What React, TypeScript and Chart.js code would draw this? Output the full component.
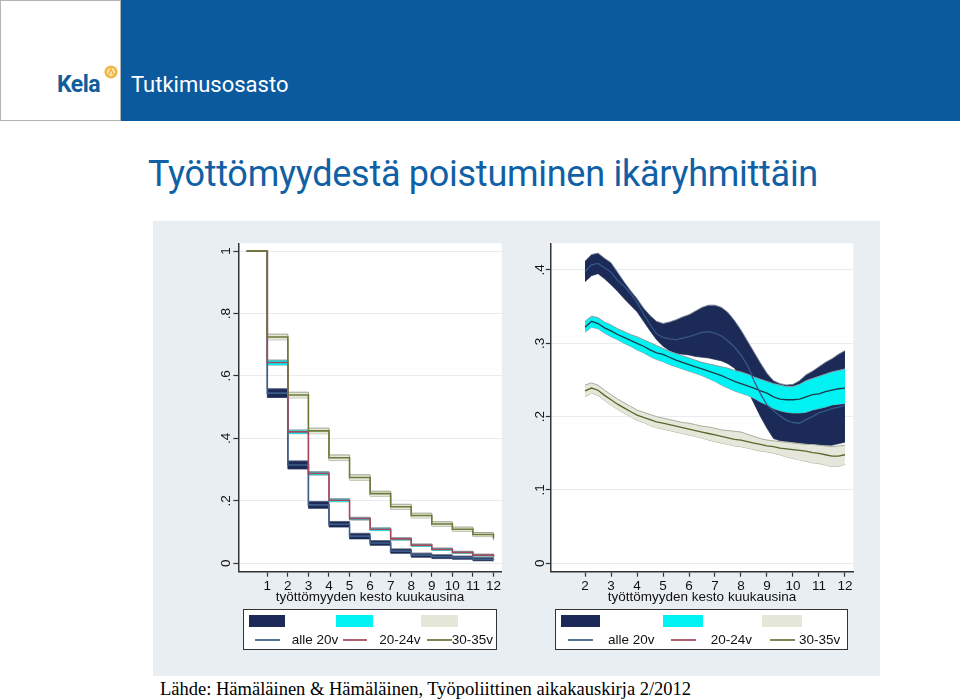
import React, { useEffect, useRef } from "react";
import { Chart, registerables } from "chart.js";
Chart.register(...registerables);

// ---------- Left chart: survival (step) ----------
const leftMonths = [0, 1, 2, 3, 4, 5, 6, 7, 8, 9, 10, 11, 12];
const leftXTicks = [1, 2, 3, 4, 5, 6, 7, 8, 9, 10, 11, 12];
const leftYTicks = [0, 0.2, 0.4, 0.6, 0.8, 1];
const leftAlle20 = [1, 0.545, 0.315, 0.187, 0.125, 0.087, 0.065, 0.039, 0.026, 0.021, 0.018, 0.013, 0.011];
const leftAlle20Half = [0, 0.014, 0.013, 0.011, 0.009, 0.009, 0.0075, 0.007, 0.0065, 0.006, 0.005, 0.005, 0.005];
const left2024 = [1, 0.643, 0.421, 0.288, 0.202, 0.143, 0.109, 0.078, 0.058, 0.045, 0.035, 0.026, 0.021];
const left2024Half = [0, 0.008, 0.006, 0.0055, 0.005, 0.0045, 0.0045, 0.004, 0.004, 0.004, 0.0035, 0.0035, 0.0035];
const left3035 = [1, 0.725, 0.539, 0.424, 0.338, 0.275, 0.223, 0.181, 0.153, 0.126, 0.109, 0.092, 0.08];
const left3035Half = [0, 0.009, 0.009, 0.009, 0.009, 0.0085, 0.008, 0.008, 0.0075, 0.007, 0.007, 0.0065, 0.0065];

// ---------- Right chart: hazard (smoothed) ----------
const rMonths = [2, 2.25, 2.5, 2.75, 3, 3.25, 3.5, 3.75, 4, 4.25, 4.5, 4.75, 5, 5.25, 5.5, 5.75, 6, 6.25, 6.5, 6.75, 7, 7.25, 7.5, 7.75, 8, 8.25, 8.5, 8.75, 9, 9.25, 9.5, 9.75, 10, 10.25, 10.5, 10.75, 11, 11.25, 11.5, 11.75, 12];
const rightXTicks = [2, 3, 4, 5, 6, 7, 8, 9, 10, 11, 12];
const rightYTicks = [0, 0.1, 0.2, 0.3, 0.4];
const rAlle20 = [0.398, 0.407, 0.409, 0.403, 0.397, 0.386, 0.378, 0.368, 0.356, 0.34, 0.326, 0.313, 0.308, 0.306, 0.305, 0.307, 0.309, 0.312, 0.315, 0.316, 0.314, 0.31, 0.303, 0.295, 0.284, 0.27, 0.249, 0.231, 0.216, 0.208, 0.201, 0.195, 0.192, 0.191, 0.196, 0.2, 0.205, 0.208, 0.211, 0.213, 0.215];
const rAlle20Hi = [0.412, 0.421, 0.423, 0.416, 0.41, 0.397, 0.384, 0.372, 0.361, 0.348, 0.338, 0.33, 0.327, 0.329, 0.332, 0.336, 0.339, 0.344, 0.349, 0.352, 0.352, 0.349, 0.342, 0.331, 0.318, 0.303, 0.288, 0.273, 0.259, 0.249, 0.245, 0.243, 0.244, 0.249, 0.257, 0.262, 0.268, 0.274, 0.279, 0.285, 0.29];
const rAlle20Lo = [0.384, 0.392, 0.395, 0.388, 0.38, 0.371, 0.361, 0.352, 0.343, 0.33, 0.317, 0.305, 0.296, 0.29, 0.286, 0.285, 0.284, 0.282, 0.281, 0.28, 0.278, 0.276, 0.272, 0.266, 0.252, 0.236, 0.218, 0.2, 0.184, 0.17, 0.167, 0.166, 0.165, 0.164, 0.163, 0.162, 0.161, 0.161, 0.161, 0.163, 0.165];
const r2024 = [0.322, 0.33, 0.327, 0.321, 0.317, 0.312, 0.308, 0.304, 0.3, 0.296, 0.291, 0.287, 0.285, 0.281, 0.277, 0.274, 0.271, 0.268, 0.265, 0.262, 0.259, 0.256, 0.252, 0.248, 0.245, 0.242, 0.239, 0.235, 0.232, 0.227, 0.224, 0.223, 0.223, 0.224, 0.227, 0.23, 0.231, 0.234, 0.236, 0.238, 0.239];
const r2024Hi = [0.33, 0.337, 0.335, 0.329, 0.325, 0.32, 0.316, 0.312, 0.309, 0.305, 0.301, 0.297, 0.293, 0.289, 0.286, 0.283, 0.28, 0.277, 0.274, 0.272, 0.27, 0.268, 0.266, 0.263, 0.261, 0.258, 0.254, 0.251, 0.248, 0.245, 0.243, 0.241, 0.241, 0.244, 0.249, 0.252, 0.255, 0.258, 0.261, 0.263, 0.265];
const r2024Lo = [0.315, 0.322, 0.32, 0.314, 0.309, 0.305, 0.3, 0.296, 0.291, 0.287, 0.282, 0.278, 0.275, 0.271, 0.268, 0.265, 0.262, 0.259, 0.256, 0.252, 0.248, 0.243, 0.239, 0.235, 0.232, 0.229, 0.225, 0.22, 0.216, 0.211, 0.208, 0.206, 0.205, 0.205, 0.206, 0.209, 0.211, 0.213, 0.216, 0.217, 0.218];
const r3035 = [0.235, 0.239, 0.236, 0.229, 0.223, 0.217, 0.212, 0.207, 0.202, 0.199, 0.196, 0.193, 0.191, 0.189, 0.187, 0.185, 0.183, 0.181, 0.179, 0.177, 0.175, 0.173, 0.171, 0.169, 0.168, 0.166, 0.164, 0.162, 0.16, 0.159, 0.157, 0.156, 0.155, 0.154, 0.153, 0.151, 0.15, 0.148, 0.146, 0.146, 0.148];
const r3035Hi = [0.243, 0.246, 0.243, 0.236, 0.23, 0.224, 0.219, 0.214, 0.209, 0.206, 0.203, 0.2, 0.198, 0.196, 0.194, 0.192, 0.191, 0.189, 0.187, 0.186, 0.184, 0.182, 0.181, 0.18, 0.179, 0.176, 0.173, 0.17, 0.168, 0.167, 0.166, 0.165, 0.164, 0.163, 0.162, 0.162, 0.161, 0.16, 0.159, 0.16, 0.161];
const r3035Lo = [0.227, 0.232, 0.229, 0.222, 0.216, 0.21, 0.205, 0.2, 0.195, 0.192, 0.188, 0.185, 0.183, 0.181, 0.179, 0.177, 0.175, 0.173, 0.171, 0.168, 0.166, 0.164, 0.162, 0.16, 0.159, 0.157, 0.155, 0.153, 0.152, 0.15, 0.148, 0.145, 0.143, 0.141, 0.139, 0.137, 0.136, 0.134, 0.132, 0.132, 0.135];

const seriesLabels = ["alle 20v", "20-24v", "30-35v"];
const xTitle = "työttömyyden kesto kuukausina";

const C_NAVY = "#1b2a56";
const C_CYAN = "#00f2f2";
const C_GRAY = "#e4e7da";
const C_ALLE = "#3f5f88";
const C_2024 = "#a8485a";
const C_3035 = "#6b7b3a";
const FONT = '"Liberation Sans", Arial, sans-serif';

function pts(xs: number[], ys: number[]) {
  const out: any[] = [];
  for (let i = 0; i < xs.length; i++) out.push({ x: xs[i], y: ys[i] });
  return out;
}
function shift(ys: number[], hs: number[], s: number) {
  const out: number[] = [];
  for (let i = 0; i < ys.length; i++) out.push(ys[i] + s * hs[i]);
  return out;
}
function fmtTick(v: number) {
  if (v === 0) return "0";
  if (v === 1) return "1";
  return String(v).replace("0.", ".");
}

function makePlotBg() {
  return {
    id: "plotBg",
    beforeDraw: function (chart: any) {
      const ctx = chart.ctx;
      const a = chart.chartArea;
      ctx.save();
      ctx.fillStyle = "#ffffff";
      ctx.fillRect(a.left, a.top, a.right - a.left, a.bottom - a.top);
      ctx.restore();
    },
  };
}

function makeRotY(ticks: number[], offset: number) {
  return {
    id: "rotY",
    afterDraw: function (chart: any) {
      const ctx = chart.ctx;
      const area = chart.chartArea;
      const ys = chart.scales.y;
      ctx.save();
      ctx.font = "13.5px " + FONT;
      ctx.fillStyle = "#111";
      ctx.textAlign = "center";
      ctx.textBaseline = "middle";
      for (let i = 0; i < ticks.length; i++) {
        const py = ys.getPixelForValue(ticks[i]);
        ctx.save();
        ctx.translate(area.left - offset, py);
        ctx.rotate(-Math.PI / 2);
        ctx.fillText(fmtTick(ticks[i]), 0, 0);
        ctx.restore();
      }
      ctx.restore();
    },
  };
}

function makeScales(xmin: number, xmax: number, ymin: number, ymax: number, xt: number[], yt: number[], yw: number) {
  return {
    x: {
      type: "linear",
      min: xmin,
      max: xmax,
      afterBuildTicks: function (s: any) {
        s.ticks = xt.map(function (v) {
          return { value: v };
        });
      },
      afterFit: function (s: any) {
        s.height = 38.3;
      },
      ticks: { font: { family: FONT, size: 13.5 }, color: "#111", padding: 1, autoSkip: false, maxRotation: 0 },
      grid: { drawOnChartArea: false, drawTicks: true, tickLength: 5, tickColor: "#333", tickWidth: 1.2 },
      border: { display: true, color: "#333", width: 1.5 },
      title: {
        display: true,
        text: xTitle,
        font: { family: FONT, size: 13.5 },
        color: "#111",
        padding: { top: 0, bottom: 5 },
      },
    },
    y: {
      type: "linear",
      min: ymin,
      max: ymax,
      afterBuildTicks: function (s: any) {
        s.ticks = yt.map(function (v) {
          return { value: v };
        });
      },
      afterFit: function (s: any) {
        s.width = yw;
      },
      ticks: { display: false },
      grid: { color: "#e6ecef", lineWidth: 1, drawTicks: true, tickLength: 5, tickColor: "#333", tickWidth: 1.2 },
      border: { display: true, color: "#333", width: 1.5 },
    },
  };
}

function lineDs(data: any, color: string, stepped: any, width: number) {
  return { data: data, borderColor: color, borderWidth: width, pointRadius: 0, fill: false, stepped: stepped, tension: 0 };
}
function bandHi(data: any, fillColor: string, edge: string, stepped: any) {
  return { data: data, borderColor: edge, borderWidth: 1, backgroundColor: fillColor, pointRadius: 0, fill: "+1", stepped: stepped, tension: 0 };
}
function bandLo(data: any, edge: string, stepped: any) {
  return { data: data, borderColor: edge, borderWidth: 1, pointRadius: 0, fill: false, stepped: stepped, tension: 0 };
}

function abs(l: number, t: number, w: number, h: number, extra?: any) {
  return Object.assign({ position: "absolute", left: l, top: t, width: w, height: h }, extra || {}) as any;
}

function LegendText(props: { left: number; text: string }) {
  return (
    <div
      style={{
        position: "absolute",
        left: props.left,
        top: 632,
        fontFamily: FONT,
        fontSize: 13.5,
        lineHeight: "15px",
        color: "#111",
        whiteSpace: "nowrap",
      }}
    >
      {props.text}
    </div>
  );
}

function LegendBox(props: { box: number[]; rects: number[]; lines: number[]; texts: number[] }) {
  const { box, rects, lines, texts } = props;
  return (
    <>
      <div style={abs(box[0], 609.3, box[1] - box[0], 40.7, { border: "1.5px solid #333", background: "#fff", boxSizing: "border-box" })} />
      <div style={abs(rects[0], 615, rects[1] - rects[0], 11.7, { background: C_NAVY })} />
      <div style={abs(rects[2], 615, rects[3] - rects[2], 11.7, { background: C_CYAN })} />
      <div style={abs(rects[4], 615, rects[5] - rects[4], 11.7, { background: C_GRAY })} />
      <div style={abs(lines[0], 638.5, lines[1] - lines[0], 2, { background: "#5a7596" })} />
      <div style={abs(lines[2], 638.5, lines[3] - lines[2], 2, { background: "#b0606e" })} />
      <div style={abs(lines[4], 638.5, lines[5] - lines[4], 2, { background: "#7a8a58" })} />
      <LegendText left={texts[0]} text={seriesLabels[0]} />
      <LegendText left={texts[1]} text={seriesLabels[1]} />
      <LegendText left={texts[2]} text={seriesLabels[2]} />
    </>
  );
}

export default function App() {
  const leftRef = useRef<HTMLCanvasElement>(null);
  const rightRef = useRef<HTMLCanvasElement>(null);

  useEffect(function () {
    const st = "before";
    const leftDatasets: any[] = [
      lineDs(pts(leftMonths, left3035), C_3035, st, 1.6),
      lineDs(pts(leftMonths, left2024), C_2024, st, 1.6),
      lineDs(pts(leftMonths, leftAlle20), C_ALLE, st, 1.6),
      bandHi(pts(leftMonths, shift(left3035, left3035Half, 1)), C_GRAY, "#9ea58c", st),
      bandLo(pts(leftMonths, shift(left3035, left3035Half, -1)), "#9ea58c", st),
      bandHi(pts(leftMonths, shift(left2024, left2024Half, 1)), C_CYAN, "#8a9aa0", st),
      bandLo(pts(leftMonths, shift(left2024, left2024Half, -1)), "#8a9aa0", st),
      bandHi(pts(leftMonths, shift(leftAlle20, leftAlle20Half, 1)), C_NAVY, "#55607a", st),
      bandLo(pts(leftMonths, shift(leftAlle20, leftAlle20Half, -1)), "#55607a", st),
    ];
    const leftCfg: any = {
      type: "line",
      data: { datasets: leftDatasets },
      options: {
        animation: false,
        responsive: false,
        maintainAspectRatio: false,
        layout: { padding: { left: 0, top: 13.3, right: 8.3, bottom: 0 } },
        plugins: { legend: { display: false }, tooltip: { enabled: false } },
        scales: makeScales(-0.41, 12.4, -0.027, 1.025, leftXTicks, leftYTicks, 78.3),
      },
      plugins: [makePlotBg(), makeRotY(leftYTicks, 11.6)],
    };
    const left = new Chart(leftRef.current as HTMLCanvasElement, leftCfg);

    const rightDatasets: any[] = [
      lineDs(pts(rMonths, rAlle20), "#36578a", false, 1.3),
      lineDs(pts(rMonths, r2024), "#1f3a48", false, 1.3),
      lineDs(pts(rMonths, r3035), "#56682a", false, 1.3),
      bandHi(pts(rMonths, r3035Hi), C_GRAY, "#a9ae9a", false),
      bandLo(pts(rMonths, r3035Lo), "#a9ae9a", false),
      bandHi(pts(rMonths, r2024Hi), C_CYAN, "#8c9ca2", false),
      bandLo(pts(rMonths, r2024Lo), "#8c9ca2", false),
      bandHi(pts(rMonths, rAlle20Hi), C_NAVY, "#7a8498", false),
      bandLo(pts(rMonths, rAlle20Lo), "#7a8498", false),
    ];
    const rightCfg: any = {
      type: "line",
      data: { datasets: rightDatasets },
      options: {
        animation: false,
        responsive: false,
        maintainAspectRatio: false,
        layout: { padding: { left: 0, top: 13.3, right: 16.7, bottom: 0 } },
        plugins: { legend: { display: false }, tooltip: { enabled: false } },
        scales: makeScales(0.68, 12.32, -0.0115, 0.4364, rightXTicks, rightYTicks, 70.7),
      },
      plugins: [makePlotBg(), makeRotY(rightYTicks, 10.7)],
    };
    const right = new Chart(rightRef.current as HTMLCanvasElement, rightCfg);

    return function () {
      left.destroy();
      right.destroy();
    };
  }, []);

  return (
    <div style={{ position: "absolute", left: 0, top: 0, width: 960, height: 700, overflow: "hidden", background: "#fff" }}>
      <div style={abs(0, 0, 121, 121, { border: "1px solid #b4b4b4", boxSizing: "border-box", background: "#fff" })} />
      <div style={abs(121, 0, 839, 121, { background: "#0b5a9e" })} />
      <div
        style={{
          position: "absolute",
          left: 57,
          top: 73,
          fontFamily: "Roboto, sans-serif",
          fontWeight: 700,
          fontSize: 23,
          lineHeight: "23px",
          color: "#115c9c",
          letterSpacing: -0.5,
        }}
      >
        Kela
      </div>
      <svg style={{ position: "absolute", left: 104, top: 65 }} width={14} height={14} viewBox="0 0 14 14">
        <circle cx={7} cy={7} r={6.5} fill="#f2b33d" />
        <circle cx={7} cy={7} r={4.2} fill="#fbe3b0" />
        <path d="M4.5 10 L7 3.8 L9.5 10" stroke="#f2b33d" strokeWidth={1.4} fill="none" />
      </svg>
      <div
        style={{
          position: "absolute",
          left: 131,
          top: 73.5,
          fontFamily: "Roboto, sans-serif",
          fontSize: 22,
          lineHeight: "22px",
          color: "#fff",
        }}
      >
        Tutkimusosasto
      </div>

      <div
        style={{
          position: "absolute",
          left: 148,
          top: 156,
          fontFamily: "Roboto, sans-serif",
          fontSize: 36,
          lineHeight: "36px",
          color: "#1060a6",
          whiteSpace: "nowrap",
          letterSpacing: -0.27,
        }}
      >
        Työttömyydestä poistuminen ikäryhmittäin
      </div>

      <div style={abs(153, 221, 727, 455, { background: "#e8eef2" })} />

      <canvas ref={leftRef} width={350} height={380} style={abs(160, 230, 350, 380)} />
      <canvas ref={rightRef} width={390} height={380} style={abs(480, 230, 390, 380)} />

      <LegendBox box={[243.3, 496.7]} rects={[249, 285, 336, 373.3, 421, 458.3]} lines={[255, 280, 343.3, 366.7, 426.7, 451.7]} texts={[291.7, 379.3, 451.7]} />
      <LegendBox box={[555, 848.3]} rects={[560.7, 600, 663, 702.7, 762.3, 801.7]} lines={[568, 593, 670.7, 695.7, 770, 795]} texts={[608, 710.7, 799]} />

      <div
        style={{
          position: "absolute",
          left: 160,
          top: 680,
          fontFamily: '"Liberation Serif", "Times New Roman", serif',
          fontSize: 18.5,
          lineHeight: "19px",
          color: "#000",
          whiteSpace: "nowrap",
        }}
      >
        Lähde: Hämäläinen &amp; Hämäläinen, Työpoliittinen aikakauskirja 2/2012
      </div>
    </div>
  );
}
